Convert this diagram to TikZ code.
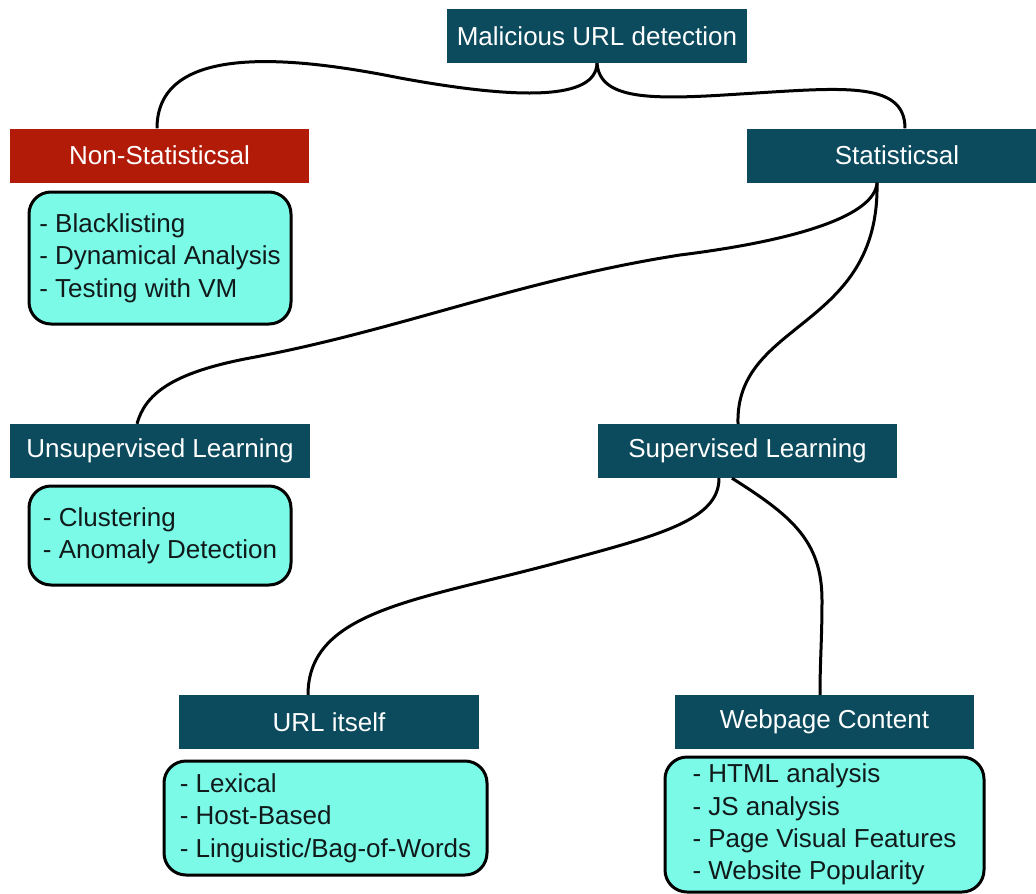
\documentclass[tikz,border=0pt]{standalone}
\usepackage{fontspec}
\setmainfont{Liberation Sans}
\definecolor{teal1}{HTML}{0C4B5D}
\definecolor{red1}{HTML}{B31B09}
\definecolor{cyan1}{HTML}{7AFAE7}
\definecolor{txt}{HTML}{111A1A}
\begin{document}
\begin{tikzpicture}[x=1pt,y=-1pt,
  hdr/.style={fill=teal1,text=white,minimum height=54pt,inner sep=0pt,font=\fontsize{26}{31}\selectfont},
  hdrred/.style={hdr,fill=red1},
  lst/.style={draw=black,line width=3pt,fill=cyan1,rounded corners=22pt,align=left,inner sep=0pt,text=txt,font=\fontsize{26}{32.3}\selectfont},
  link/.style={line width=3pt}]
\useasboundingbox (0,0) rectangle (1036,894);
\node[hdr,minimum width=300pt] (root) at (597,36) {Malicious URL detection};
\node[hdrred,minimum width=299pt] (ns) at (159.5,155.5) {Non-Statisticsal};
\node[hdr,minimum width=300pt] (st) at (897,155.5) {Statisticsal};
\node[lst,minimum width=262pt,minimum height=132pt] (nsl) at (160,258) {- Blacklisting\\- Dynamical Analysis\\- Testing with VM};
\node[hdr,minimum width=300pt] (un) at (160,451) {Unsupervised Learning};
\node[lst,minimum width=262pt,minimum height=99pt] (unl) at (160,535.5) {- Clustering\\- Anomaly Detection};
\node[hdr,minimum width=299pt] (su) at (747.5,451) {Supervised Learning};
\node[hdr,minimum width=300pt] (url) at (329,722) {URL itself};
\node[lst,minimum width=323pt,minimum height=114pt] (urll) at (325.5,818) {- Lexical\\- Host-Based\\- Linguistic/Bag-of-Words};
\node[hdr,minimum width=299pt] (web) at (824.5,722) {Webpage Content};
\node[lst,minimum width=319pt,minimum height=135pt] (webl) at (824.5,824.5) {- HTML analysis\\- JS analysis\\- Page Visual Features\\- Website Popularity};
% connectors
\draw[link] (root.south) .. controls (596,100) and (520,100) .. (400,78)
  .. controls (300,58) and (157,40) .. (ns.north -| 157,0);
\draw[link] (root.south) .. controls (600,100) and (650,100) .. (740,94)
  .. controls (840,88) and (905,80) .. (st.north -| 905,0);
\draw[link] (st.south -| 877,0) .. controls (875,215) and (800,240) .. (680,255)
  .. controls (520,280) and (400,330) .. (250,358)
  .. controls (170,373) and (145,395) .. (un.north -| 137,0);
\draw[link] (st.south -| 877,0) .. controls (880,330) and (735,320) .. (su.north -| 738,0);
\draw[link] (su.south -| 719,0) .. controls (719,520) and (660,535) .. (560,562)
  .. controls (420,600) and (308,610) .. (url.north -| 308,0);
\draw[link] (su.south -| 732,0) .. controls (790,515) and (822,540) .. (822,600)
  .. controls (822,640) and (820,660) .. (web.north -| 820,0);
\end{tikzpicture}
\end{document}
